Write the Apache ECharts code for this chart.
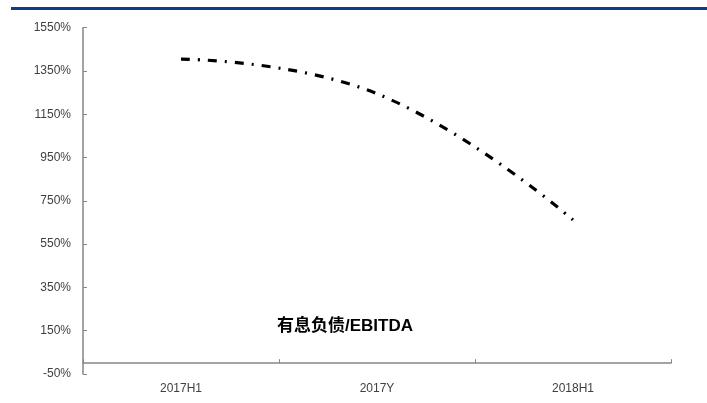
<!DOCTYPE html>
<html>
<head>
<meta charset="utf-8">
<script src="https://cdn.jsdelivr.net/npm/echarts@6/dist/echarts.min.js"></script>
<style>
  html, body { margin: 0; padding: 0; background: #fff; }
  #chart { width: 707px; height: 403px; }
</style>
</head>
<body>
<div id="chart"></div>
<script>
// Periods on the horizontal axis
const categories = ['2017H1', '2017Y', '2018H1'];
// Interest-bearing debt / EBITDA, in percent
const debtToEbitda = [1405, 1245, 662];
// Vertical axis tick values (percent)
const yTicks = [-50, 150, 350, 550, 750, 950, 1150, 1350, 1550];
const seriesName = '有息负债/EBITDA';

const chart = echarts.init(document.getElementById('chart'));

const axisColor = '#868686';
const labelColor = '#404040';

chart.setOption({
  animation: false,
  backgroundColor: '#ffffff',
  graphic: [
    {
      type: 'rect',
      left: 11,
      top: 7,
      shape: { width: 696, height: 3 },
      style: { fill: '#123a8c' }
    }
  ],
  legend: {
    data: [seriesName],
    left: 267,
    top: 313,
    itemWidth: 0,
    itemHeight: 0,
    icon: 'rect',
    itemGap: 0,
    textStyle: {
      color: '#000',
      fontSize: 17,
      fontWeight: 'bold',
      fontFamily: '"Liberation Sans", "Noto Sans CJK SC", sans-serif'
    }
  },
  grid: {
    left: 83,
    right: 36,
    top: 27.7,
    bottom: 29,
    containLabel: false
  },
  xAxis: {
    type: 'category',
    data: categories,
    boundaryGap: true,
    axisLine: { onZero: true, lineStyle: { color: axisColor, width: 1.5 } },
    axisTick: { show: true, inside: true, length: 4, lineStyle: { color: axisColor } },
    axisLabel: {
      color: labelColor,
      fontSize: 12,
      fontFamily: '"Liberation Sans", Arial, sans-serif',
      margin: 9
    },
    splitLine: { show: false }
  },
  yAxis: {
    type: 'value',
    min: yTicks[0],
    max: yTicks[yTicks.length - 1],
    axisLine: { show: true, lineStyle: { color: axisColor, width: 1.5 } },
    axisTick: {
      show: true,
      inside: true,
      length: 4,
      customValues: yTicks,
      lineStyle: { color: axisColor }
    },
    axisLabel: {
      customValues: yTicks,
      formatter: v => v + '%',
      color: labelColor,
      fontSize: 12,
      fontFamily: '"Liberation Sans", Arial, sans-serif',
      margin: 12
    },
    splitLine: { show: false }
  },
  series: [
    {
      name: seriesName,
      type: 'line',
      data: debtToEbitda,
      smooth: 0.45,
      showSymbol: false,
      symbol: 'none',
      lineStyle: {
        color: '#000',
        width: 3.2,
        type: [9, 8, 2, 8],
        cap: 'butt'
      },
      itemStyle: { color: '#000' }
    }
  ]
});
</script>
</body>
</html>
